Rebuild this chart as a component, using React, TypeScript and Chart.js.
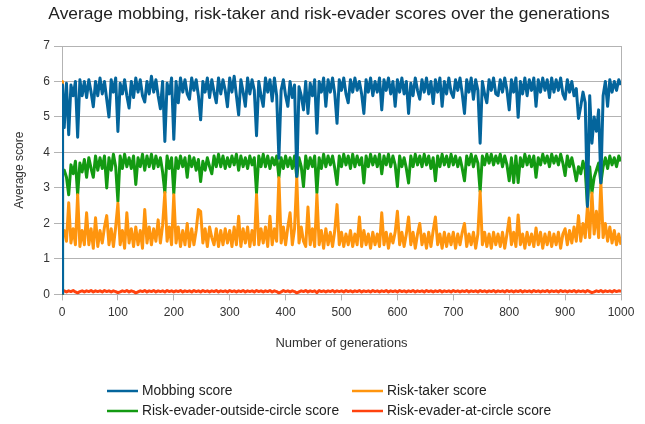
import { useEffect, useRef } from "react";
import { Chart, registerables } from "chart.js";

Chart.register(...registerables);

const chartTitle = "Average mobbing, risk-taker and risk-evader scores over the generations";
const xAxisTitle = "Number of generations";
const yAxisTitle = "Average score";

const seriesNames = [
  "Mobbing score",
  "Risk-taker score",
  "Risk-evader-outside-circle score",
  "Risk-evader-at-circle score",
];
const seriesColors = ["#04659c", "#ff950e", "#139a12", "#ff420e"];

// sampled generations: 0, 1, then every 4 generations up to 1000
const generations = [0, 1, ...Array.from({ length: 250 }, (_, i) => (i + 1) * 4)];

const mobbing = [
  0, 5.9,
  4.7, 5.95, 4.5, 5.9, 5.6, 6.0, 4.43, 6.05, 5.6, 6.0,
  5.55, 6.05, 5.7, 5.29, 6.0, 5.6, 6.1, 5.65, 6.0, 5.5,
  5.0, 6.05, 5.7, 6.1, 4.59, 5.95, 5.65, 6.05, 5.6, 5.25,
  6.0, 5.55, 6.1, 5.7, 6.05, 5.6, 5.42, 6.0, 5.65, 6.15,
  5.7, 6.05, 5.6, 5.23, 6.0, 4.31, 5.95, 5.65, 6.1, 4.37,
  6.0, 5.4, 6.1, 5.7, 6.05, 5.65, 5.5, 6.1, 5.75, 6.05,
  5.6, 4.92, 6.0, 5.7, 6.1, 5.55, 6.05, 5.7, 5.4, 6.1,
  5.65, 6.05, 5.75, 5.29, 6.1, 5.7, 6.15, 5.6, 5.06, 6.05,
  5.7, 5.3, 6.1, 5.65, 6.05, 5.75, 4.47, 6.0, 5.6, 5.3,
  6.1, 5.7, 6.05, 5.45, 6.1, 5.6, 3.84, 5.75, 6.05, 5.6,
  5.3, 6.0, 5.55, 5.9, 3.32, 5.85, 5.6, 5.2, 6.0, 5.1,
  5.95, 5.6, 6.05, 4.54, 6.0, 5.7, 6.1, 5.3, 6.05, 5.7,
  6.1, 5.65, 4.82, 6.05, 5.75, 6.1, 5.65, 5.4, 6.05, 5.7,
  6.1, 5.75, 6.0, 5.65, 5.1, 6.05, 5.7, 6.1, 5.6, 6.0,
  5.7, 6.1, 5.2, 6.05, 5.75, 6.1, 5.65, 6.0, 5.3, 6.05,
  5.7, 6.1, 5.65, 6.0, 5.1, 5.95, 5.6, 6.1, 5.75, 5.5,
  6.05, 5.7, 6.1, 5.65, 6.0, 5.38, 6.05, 5.7, 6.1, 5.3,
  6.0, 5.65, 6.1, 5.7, 5.55, 6.05, 5.75, 6.1, 5.65, 5.1,
  6.05, 5.7, 6.1, 5.5, 6.05, 5.75, 4.26, 6.0, 5.65, 5.4,
  6.05, 5.75, 6.1, 5.65, 5.6, 6.05, 5.7, 6.1, 5.75, 5.2,
  6.05, 5.7, 6.1, 4.99, 6.0, 5.65, 6.1, 5.6, 6.05, 5.75,
  6.1, 5.3, 6.05, 5.7, 6.1, 5.75, 6.05, 5.55, 6.1, 5.7,
  6.05, 5.75, 6.1, 5.65, 5.5, 6.05, 5.7, 6.0, 5.6, 5.8,
  4.96, 5.3, 5.7, 5.4, 2.48, 5.6, 4.26, 5.0, 4.6, 5.2,
  3.14, 5.6, 6.0, 5.3, 6.05, 5.7, 6.0, 5.75, 6.05, 5.9,
];

const riskTaker = [
  6.0, 1.8,
  1.8, 1.5, 2.58, 1.45, 1.85, 1.4, 2.81, 1.35, 1.8, 1.4,
  2.3, 1.4, 1.85, 1.3, 2.16, 1.35, 1.8, 1.45, 1.9, 2.22,
  1.4, 1.85, 1.35, 1.9, 2.57, 1.4, 1.8, 1.3, 2.3, 1.45,
  1.85, 1.35, 1.9, 1.4, 1.8, 1.3, 2.39, 1.45, 1.9, 1.4,
  1.85, 1.5, 2.1, 1.45, 1.95, 2.87, 1.5, 1.9, 1.4, 2.81,
  1.45, 1.9, 1.35, 1.8, 1.4, 2.0, 1.35, 1.85, 1.4, 1.8,
  2.39, 2.34, 1.45, 1.85, 1.35, 1.9, 1.6, 1.4, 1.85, 1.35,
  1.8, 1.4, 1.85, 1.45, 1.8, 1.35, 1.9, 1.4, 2.2, 1.35,
  1.85, 1.45, 1.9, 1.35, 1.8, 1.4, 2.81, 1.4, 1.85, 1.45,
  1.9, 1.35, 2.2, 1.4, 1.85, 1.5, 3.29, 1.45, 1.9, 1.4,
  1.9, 2.3, 1.4, 1.85, 3.29, 1.45, 1.9, 1.5, 1.35, 2.46,
  1.4, 1.85, 1.35, 2.81, 1.4, 1.8, 1.3, 1.85, 1.4, 1.75,
  1.35, 1.8, 2.53, 1.4, 1.75, 1.35, 1.7, 1.4, 1.8, 1.35,
  1.7, 1.4, 2.18, 1.35, 1.8, 1.4, 1.7, 1.3, 1.75, 1.4,
  1.7, 1.35, 2.3, 1.4, 1.75, 1.3, 1.7, 1.45, 1.75, 2.34,
  1.4, 1.75, 1.35, 1.7, 2.18, 1.4, 1.75, 1.3, 1.7, 2.0,
  1.4, 1.7, 1.3, 1.75, 1.35, 1.8, 2.18, 1.4, 1.7, 1.3,
  1.75, 1.35, 1.7, 1.4, 1.75, 1.3, 1.7, 1.4, 1.75, 2.0,
  1.35, 1.7, 1.4, 1.75, 1.3, 1.7, 2.9, 1.4, 1.75, 1.35,
  1.7, 1.3, 1.75, 1.4, 1.7, 1.35, 1.75, 1.3, 1.7, 2.15,
  1.4, 1.75, 1.35, 2.24, 1.4, 1.7, 1.3, 1.75, 1.4, 1.7,
  1.35, 1.87, 1.4, 1.75, 1.3, 1.7, 1.4, 1.75, 1.35, 1.7,
  1.4, 1.75, 1.3, 1.7, 1.85, 1.4, 1.8, 1.45, 1.9, 1.5,
  2.22, 1.5, 2.0, 1.6, 2.48, 1.6, 2.86, 1.7, 2.34, 1.6,
  3.14, 1.6, 2.0, 1.5, 1.9, 1.45, 1.8, 1.4, 1.7, 1.4,
];

const evaderOutside = [
  0, 3.4,
  3.5, 3.3, 2.81, 3.65, 3.4, 3.75, 2.81, 3.7, 3.45, 3.8,
  3.3, 3.85, 3.55, 3.3, 3.9, 3.5, 3.85, 3.55, 3.9, 3.0,
  3.85, 3.5, 3.95, 3.6, 2.62, 3.9, 3.55, 3.95, 3.6, 3.85,
  3.55, 3.9, 3.1, 3.85, 3.6, 3.95, 3.5, 3.9, 3.6, 3.95,
  3.55, 3.9, 3.6, 3.85, 3.45, 2.87, 3.9, 3.55, 3.85, 2.84,
  3.85, 3.55, 3.9, 3.6, 3.85, 3.3, 3.9, 3.6, 3.85, 3.5,
  3.8, 3.18, 3.75, 3.5, 3.85, 3.6, 3.4, 3.9, 3.6, 3.95,
  3.6, 3.9, 3.55, 3.85, 3.6, 3.9, 3.65, 3.95, 3.5, 3.9,
  3.6, 3.85, 3.55, 3.9, 3.65, 3.85, 2.86, 3.9, 3.6, 3.95,
  3.6, 3.9, 3.55, 3.85, 3.65, 3.9, 3.3, 3.85, 3.55, 3.9,
  3.6, 3.85, 3.55, 3.9, 3.3, 3.85, 3.6, 3.04, 3.9, 3.55,
  3.85, 3.6, 3.9, 2.86, 3.85, 3.55, 3.95, 3.6, 3.9, 3.65,
  3.9, 3.55, 3.1, 3.9, 3.6, 3.95, 3.65, 3.9, 3.55, 3.95,
  3.6, 3.9, 3.65, 3.85, 3.14, 3.9, 3.6, 3.95, 3.65, 3.9,
  3.6, 3.95, 3.4, 3.9, 3.65, 3.95, 3.6, 3.9, 3.65, 3.04,
  3.9, 3.6, 3.85, 3.55, 3.14, 3.9, 3.6, 3.95, 3.65, 3.9,
  3.6, 3.95, 3.65, 3.9, 3.55, 3.85, 3.2, 3.9, 3.6, 3.95,
  3.65, 3.9, 3.6, 3.95, 3.65, 3.9, 3.6, 3.85, 3.55, 3.2,
  3.9, 3.65, 3.95, 3.6, 3.9, 3.7, 2.9, 3.9, 3.65, 3.95,
  3.7, 3.95, 3.65, 3.9, 3.7, 3.95, 3.6, 3.9, 3.65, 3.2,
  3.85, 3.15, 3.9, 3.15, 3.85, 3.6, 3.95, 3.65, 3.9, 3.6,
  3.9, 3.3, 3.85, 3.65, 3.95, 3.7, 3.9, 3.6, 3.95, 3.7,
  3.9, 3.65, 3.95, 3.7, 3.35, 3.9, 3.6, 3.85, 3.55, 3.2,
  3.6, 3.4, 3.75, 3.5, 2.48, 3.6, 2.86, 3.3, 3.5, 3.7,
  3.14, 3.6, 3.85, 3.55, 3.9, 3.65, 3.85, 3.6, 3.9, 3.75,
];

const evaderAtCircle = [
  0, 0.09,
  0.1, 0.07, 0.1, 0.08, 0.11, 0.07, 0.04, 0.08, 0.1, 0.07,
  0.1, 0.08, 0.11, 0.07, 0.1, 0.08, 0.1, 0.07, 0.11, 0.08,
  0.1, 0.07, 0.1, 0.08, 0.05, 0.07, 0.1, 0.08, 0.11, 0.07,
  0.1, 0.08, 0.04, 0.07, 0.1, 0.08, 0.11, 0.07, 0.1, 0.08,
  0.11, 0.07, 0.1, 0.08, 0.1, 0.07, 0.11, 0.08, 0.1, 0.07,
  0.1, 0.08, 0.11, 0.07, 0.1, 0.08, 0.1, 0.07, 0.11, 0.08,
  0.1, 0.07, 0.11, 0.08, 0.1, 0.07, 0.1, 0.08, 0.11, 0.07,
  0.1, 0.08, 0.1, 0.07, 0.11, 0.08, 0.1, 0.07, 0.1, 0.08,
  0.11, 0.07, 0.1, 0.08, 0.1, 0.07, 0.11, 0.08, 0.1, 0.07,
  0.1, 0.08, 0.11, 0.07, 0.1, 0.08, 0.04, 0.07, 0.11, 0.08,
  0.1, 0.07, 0.1, 0.08, 0.04, 0.07, 0.1, 0.08, 0.11, 0.07,
  0.1, 0.08, 0.1, 0.05, 0.11, 0.08, 0.1, 0.07, 0.1, 0.08,
  0.11, 0.07, 0.1, 0.08, 0.1, 0.07, 0.11, 0.08, 0.1, 0.07,
  0.1, 0.08, 0.11, 0.07, 0.1, 0.08, 0.1, 0.07, 0.11, 0.08,
  0.1, 0.07, 0.1, 0.08, 0.11, 0.07, 0.1, 0.08, 0.1, 0.07,
  0.11, 0.08, 0.1, 0.07, 0.1, 0.08, 0.11, 0.07, 0.1, 0.08,
  0.1, 0.07, 0.11, 0.08, 0.1, 0.07, 0.1, 0.08, 0.11, 0.07,
  0.1, 0.08, 0.1, 0.07, 0.11, 0.08, 0.1, 0.07, 0.1, 0.08,
  0.11, 0.07, 0.1, 0.08, 0.1, 0.07, 0.11, 0.08, 0.1, 0.07,
  0.1, 0.08, 0.11, 0.07, 0.1, 0.08, 0.1, 0.07, 0.11, 0.08,
  0.1, 0.07, 0.1, 0.08, 0.11, 0.07, 0.1, 0.08, 0.1, 0.07,
  0.11, 0.08, 0.1, 0.07, 0.1, 0.08, 0.11, 0.07, 0.1, 0.08,
  0.1, 0.07, 0.11, 0.08, 0.1, 0.07, 0.1, 0.08, 0.11, 0.07,
  0.1, 0.08, 0.1, 0.07, 0.11, 0.08, 0.05, 0.07, 0.1, 0.08,
  0.11, 0.07, 0.1, 0.08, 0.1, 0.07, 0.11, 0.08, 0.1, 0.09,
];

const seriesValues = [mobbing, riskTaker, evaderOutside, evaderAtCircle];

const xTickValues = [0, 100, 200, 300, 400, 500, 600, 700, 800, 900, 1000];
const yTickValues = [0, 1, 2, 3, 4, 5, 6, 7];

const FONT = "'Liberation Sans', Arial, sans-serif";
const TEXT_COLOR = "#333333";
const GRID_COLOR = "#b3b3b3";

const decorPlugin = {
  id: "decor",
  afterDraw(chart: any) {
    const ctx = chart.ctx as CanvasRenderingContext2D;
    const area = chart.chartArea;
    ctx.save();
    // plot frame (right edge)
    ctx.strokeStyle = GRID_COLOR;
    ctx.lineWidth = 1;
    ctx.beginPath();
    ctx.moveTo(Math.round(area.right) + 0.5, area.top);
    ctx.lineTo(Math.round(area.right) + 0.5, area.bottom);
    ctx.stroke();

    // title
    ctx.fillStyle = "#222222";
    ctx.font = `17.4px ${FONT}`;
    ctx.textAlign = "center";
    ctx.textBaseline = "middle";
    ctx.fillText(chartTitle, 329, 14);

    // legend in two columns
    const cols = [107, 352];
    const rows = [391, 411];
    ctx.font = `13.8px ${FONT}`;
    ctx.textAlign = "left";
    seriesNames.forEach((name, i) => {
      const cx = cols[i % 2];
      const cy = rows[Math.floor(i / 2)];
      ctx.strokeStyle = seriesColors[i];
      ctx.lineWidth = 2.5;
      ctx.beginPath();
      ctx.moveTo(cx, cy);
      ctx.lineTo(cx + 31, cy);
      ctx.stroke();
      ctx.fillStyle = "#222222";
      ctx.fillText(name, cx + 35, cy);
    });
    ctx.restore();
  },
};

export default function App() {
  const canvasRef = useRef<HTMLCanvasElement | null>(null);

  useEffect(() => {
    document.body.style.margin = "0";
    const canvas = canvasRef.current;
    if (!canvas) return;
    const datasets = seriesNames.map((name, i) => ({
      label: name,
      data: generations.map((g, k) => ({ x: g, y: seriesValues[i][k] })),
      borderColor: seriesColors[i],
      backgroundColor: seriesColors[i],
      borderWidth: 3,
      pointRadius: 0,
      pointHoverRadius: 0,
      tension: 0,
      fill: false,
      borderJoinStyle: "round" as const,
    }));

    const chart = new Chart(canvas, {
      type: "line",
      data: { datasets },
      options: {
        animation: false,
        responsive: false,
        maintainAspectRatio: false,
        layout: { padding: { left: 12, right: 24, top: 46, bottom: 73 } },
        plugins: {
          legend: { display: false },
          title: { display: false },
          tooltip: { enabled: false },
        },
        scales: {
          x: {
            type: "linear",
            min: 0,
            max: 1000,
            afterBuildTicks: (scale: any) => {
              scale.ticks = xTickValues.map((v) => ({ value: v }));
            },
            afterFit: (scale: any) => {
              scale.height = 56.6;
            },
            ticks: {
              font: { family: FONT, size: 12 },
              color: TEXT_COLOR,
              padding: 5,
              maxRotation: 0,
              callback: (v: any) => String(v),
            },
            grid: {
              drawOnChartArea: false,
              color: GRID_COLOR,
              tickLength: 6,
            },
            border: { color: GRID_COLOR },
            title: {
              display: true,
              text: xAxisTitle,
              font: { family: FONT, size: 13 },
              color: TEXT_COLOR,
              padding: 0,
            },
          },
          y: {
            type: "linear",
            min: 0,
            max: 7,
            afterBuildTicks: (scale: any) => {
              scale.ticks = yTickValues.map((v) => ({ value: v }));
            },
            afterFit: (scale: any) => {
              scale.width = 50;
            },
            ticks: {
              font: { family: FONT, size: 12 },
              color: TEXT_COLOR,
              padding: 4,
              callback: (v: any) => String(v),
            },
            grid: {
              color: GRID_COLOR,
              tickLength: 8,
            },
            border: { color: GRID_COLOR },
            title: {
              display: true,
              text: yAxisTitle,
              font: { family: FONT, size: 12 },
              color: TEXT_COLOR,
              padding: 0,
            },
          },
        },
      },
      plugins: [decorPlugin],
    });
    return () => chart.destroy();
  }, []);

  return (
    <div style={{ position: "absolute", left: 0, top: 0, width: 645, height: 424, background: "#fff" }}>
      <canvas ref={canvasRef} width={645} height={424} style={{ width: 645, height: 424 }} />
    </div>
  );
}
